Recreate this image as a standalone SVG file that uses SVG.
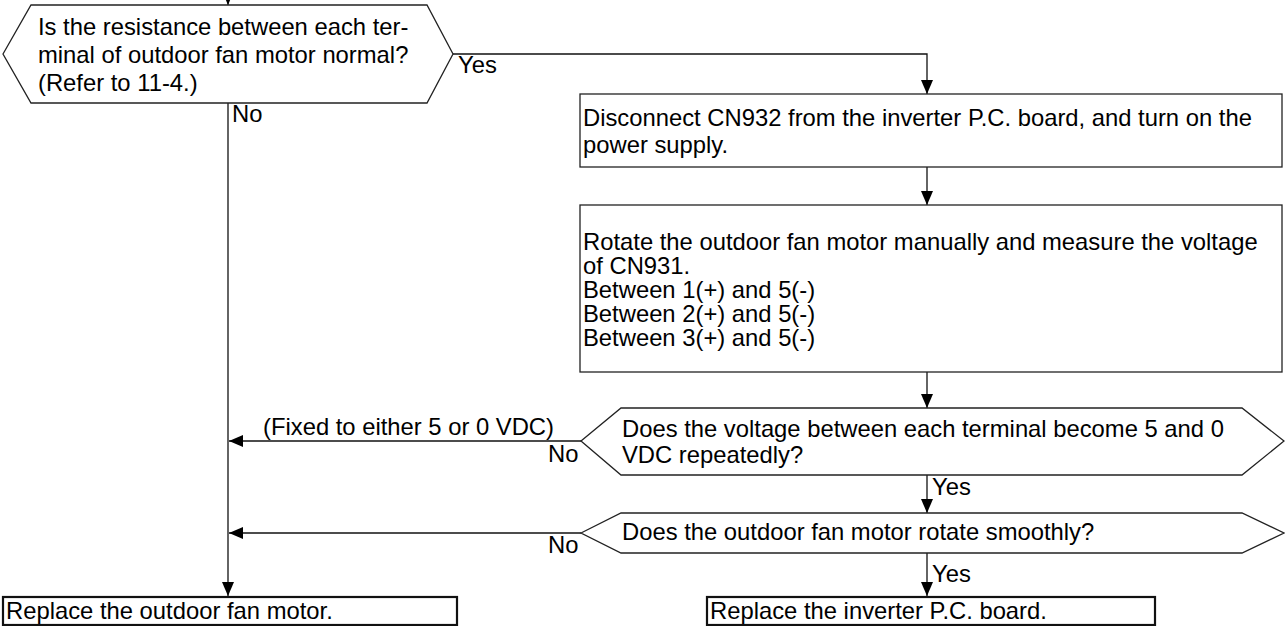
<svg xmlns="http://www.w3.org/2000/svg" width="1285" height="626" viewBox="0 0 1285 626">
<style>
text{font-family:"Liberation Sans",Arial,sans-serif;font-size:23.8px;fill:#000}
.shape{fill:#fff;stroke:#222;stroke-width:1.3}
.term{fill:#fff;stroke:#111;stroke-width:2.2}
.conn{fill:none;stroke:#111;stroke-width:1.3}
</style>
<defs>
<marker id="arr" viewBox="0 0 14 12" refX="14" refY="6" markerWidth="14" markerHeight="12" markerUnits="userSpaceOnUse" orient="auto">
<path d="M0,0 L14,6 L0,12 Z" fill="#000"/>
</marker>
</defs>
<rect width="1285" height="626" fill="#fff"/>
<g id="connectors">
<path class="conn" d="M228,-20 V5" marker-end="url(#arr)"/>
<path class="conn" d="M453,54 H927 V94" marker-end="url(#arr)"/>
<path class="conn" d="M228,103 V596" marker-end="url(#arr)"/>
<path class="conn" d="M927,167 V205" marker-end="url(#arr)"/>
<path class="conn" d="M927,372 V408" marker-end="url(#arr)"/>
<path class="conn" d="M581,441 H229" marker-end="url(#arr)"/>
<path class="conn" d="M927,475 V513" marker-end="url(#arr)"/>
<path class="conn" d="M581,533 H229" marker-end="url(#arr)"/>
<path class="conn" d="M927,553 V596" marker-end="url(#arr)"/>
<text x="458" y="73">Yes</text>
<text x="232" y="122">No</text>
<text x="263" y="435">(Fixed to either 5 or 0 VDC)</text>
<text x="548" y="462">No</text>
<text x="932" y="495">Yes</text>
<text x="548" y="553">No</text>
<text x="932" y="582">Yes</text>
</g>
<g id="q1">
<polygon class="shape" points="3,54 31,5 427,5 453,54 427,103 31,103"/>
<text x="38" y="35">Is the resistance between each ter-</text>
<text x="38" y="63">minal of outdoor fan motor normal?</text>
<text x="38" y="91">(Refer to 11-4.)</text>
</g>
<g id="disconnect">
<rect class="shape" x="580" y="94" width="702" height="73"/>
<text x="583" y="126">Disconnect CN932 from the inverter P.C. board, and turn on the</text>
<text x="583" y="153">power supply.</text>
</g>
<g id="rotate">
<rect class="shape" x="580" y="205" width="702" height="167"/>
<text x="583" y="250">Rotate the outdoor fan motor manually and measure the voltage</text>
<text x="583" y="274">of CN931.</text>
<text x="583" y="298">Between 1(+) and 5(-)</text>
<text x="583" y="322">Between 2(+) and 5(-)</text>
<text x="583" y="346">Between 3(+) and 5(-)</text>
</g>
<g id="q2">
<polygon class="shape" points="581,441 621,408 1242,408 1284,441 1242,475 621,475"/>
<text x="622" y="437">Does the voltage between each terminal become 5 and 0</text>
<text x="622" y="463">VDC repeatedly?</text>
</g>
<g id="q3">
<polygon class="shape" points="581,533 621,513 1242,513 1284,533 1242,553 621,553"/>
<text x="622" y="540">Does the outdoor fan motor rotate smoothly?</text>
</g>
<g id="replace-motor">
<rect class="term" x="3" y="597" width="454" height="28"/>
<text x="6" y="619">Replace the outdoor fan motor.</text>
</g>
<g id="replace-board">
<rect class="term" x="707" y="597" width="448" height="28"/>
<text x="710" y="619">Replace the inverter P.C. board.</text>
</g>
</svg>
